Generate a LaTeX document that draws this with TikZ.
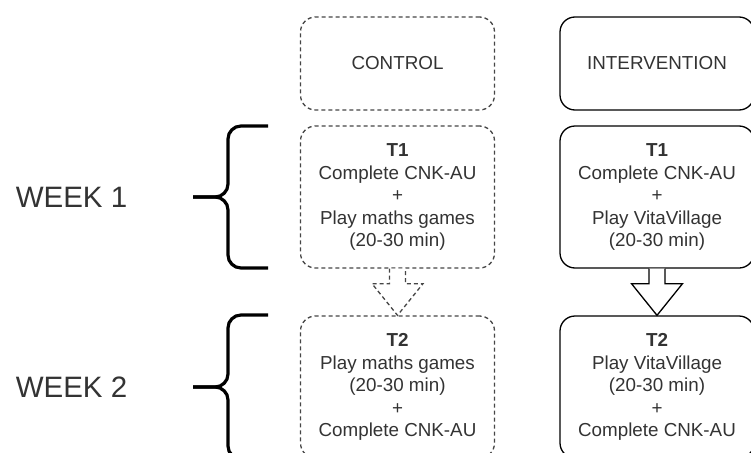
\documentclass[tikz,border=0pt]{standalone}
\usepackage{fontspec}
\setmainfont{Liberation Sans}
\usetikzlibrary{calc}
\definecolor{txt}{RGB}{51,51,51}
\definecolor{dgray}{RGB}{70,70,70}
\begin{document}
\begin{tikzpicture}[x=1pt,y=-1pt,
  boxtext/.style={align=center,text=txt,font=\fontsize{18.8}{22.5}\selectfont},
  sbox/.style={boxtext,draw=black,line width=1.3pt,rounded corners=15pt,minimum width=194pt,minimum height=142pt,inner sep=0pt},
  dbox/.style={sbox,draw=dgray,dash pattern=on 4pt off 3pt},
  toph/.style={minimum height=93pt},
  brace/.style={draw=black,line width=3.2pt,rounded corners=13pt},
  blockarrow/.style={draw=black,fill=white,line width=1.3pt,line join=miter},
  dblockarrow/.style={blockarrow,draw=dgray,dash pattern=on 4pt off 3pt},
  weektext/.style={text=txt,font=\fontsize{29.5}{34}\selectfont,inner sep=0pt}]
\useasboundingbox (0,0) rectangle (751,452);
\fill[white] (0,0) rectangle (751,452);

% column headers
\node[dbox,toph] (ctl) at (397.5,63.5) {CONTROL};
\node[sbox,toph] (int) at (657,63.5) {INTERVENTION};

% week 1 boxes
\node[dbox] (c1) at (397.5,197) {\textbf{T1}\\Complete CNK-AU\\+\\Play maths games\\(20-30 min)};
\node[sbox] (i1) at (657,197) {\textbf{T1}\\Complete CNK-AU\\+\\Play VitaVillage\\(20-30 min)};

% week 2 boxes
\node[dbox] (c2) at (397.5,387) {\textbf{T2}\\Play maths games\\(20-30 min)\\+\\Complete CNK-AU};
\node[sbox] (i2) at (657,387) {\textbf{T2}\\Play VitaVillage\\(20-30 min)\\+\\Complete CNK-AU};

% block arrows
\filldraw[dblockarrow] ($(c1.south)+(-8,0)$) -- ($(c1.south)+(-8,15)$) -- ($(c1.south)+(-25.5,15)$) -- (c2.north) -- ($(c1.south)+(25.5,15)$) -- ($(c1.south)+(8,15)$) -- ($(c1.south)+(8,0)$);
\filldraw[blockarrow] ($(i1.south)+(-8,0)$) -- ($(i1.south)+(-8,15)$) -- ($(i1.south)+(-25.5,15)$) -- (i2.north) -- ($(i1.south)+(25.5,15)$) -- ($(i1.south)+(8,15)$) -- ($(i1.south)+(8,0)$);

% braces
\coordinate (b1tip) at (193,197);
\coordinate (b1top) at (268,126);
\coordinate (b1bot) at (268,268);
\draw[brace] (b1top) -| (228,197) -- (b1tip);
\draw[brace] (b1bot) -| (228,197) -- (b1tip);
\coordinate (b2tip) at (193,387);
\coordinate (b2top) at (268,315);
\coordinate (b2bot) at (268,459);
\draw[brace] (b2top) -| (228,387) -- (b2tip);
\draw[brace] (b2bot) -| (228,387) -- (b2tip);

% week labels
\node[weektext] (w1) at (71.5,197) {WEEK 1};
\node[weektext] (w2) at (71.5,387) {WEEK 2};
\end{tikzpicture}
\end{document}
